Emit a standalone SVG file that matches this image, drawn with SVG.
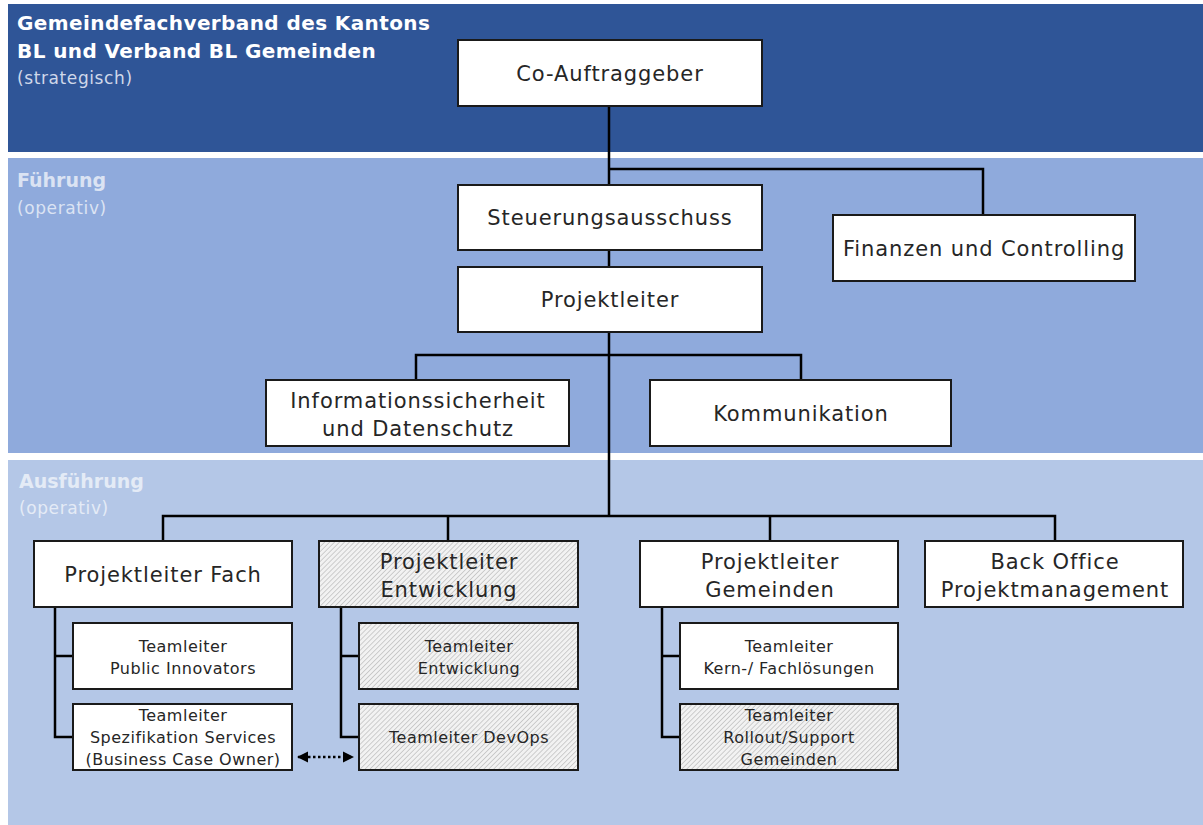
<svg xmlns="http://www.w3.org/2000/svg" width="1203" height="825" viewBox="0 0 1203 825">
  <style>
    .box { fill: #ffffff; stroke: #1a1a1a; stroke-width: 2; }
    .hatch { fill: url(#hatch); stroke: #1a1a1a; stroke-width: 2; }
    .t { font-family: "DejaVu Sans", "Liberation Sans", sans-serif; fill: #262626; text-anchor: middle; }
    .big { font-size: 21px; letter-spacing: 0.9px; }
    .small { font-size: 16px; letter-spacing: 0.5px; }
    .conn { fill: none; stroke: #000; stroke-width: 2.5; }
    .head { font-family: "DejaVu Sans", "Liberation Sans", sans-serif; font-weight: bold; font-size: 20px; letter-spacing: 0.4px; }
    .sec { font-family: "DejaVu Sans", "Liberation Sans", sans-serif; font-weight: bold; font-size: 19px; }
    .sub { font-family: "DejaVu Sans", "Liberation Sans", sans-serif; font-size: 17px; letter-spacing: 0.6px; }
  </style>
  <defs>
    <pattern id="hatch" width="3.5" height="3.5" patternUnits="userSpaceOnUse" patternTransform="rotate(45)">
      <rect width="3.5" height="3.5" fill="#f2f2f2"/>
      <line x1="0" y1="0" x2="0" y2="3.5" stroke="#adadad" stroke-width="1.1"/>
    </pattern>
    <marker id="arr" viewBox="0 0 10 10" refX="9" refY="5" markerWidth="4.5" markerHeight="4.5" orient="auto-start-reverse">
      <path d="M0,0 L10,5 L0,10 z" fill="#000"/>
    </marker>
  </defs>

  <rect width="1203" height="825" fill="#ffffff"/>

  <!-- bands -->
  <g id="bands">
    <rect x="8" y="4" width="1195" height="148" fill="#2f5597"/>
    <rect x="8" y="158" width="1195" height="295" fill="#8faadc"/>
    <rect x="8" y="460" width="1195" height="365" fill="#b4c7e7"/>
    <text class="head" x="17" y="30" fill="#ffffff">Gemeindefachverband des Kantons</text>
    <text class="head" x="17" y="58" fill="#ffffff">BL und Verband BL Gemeinden</text>
    <text class="sub" x="17" y="84" fill="#d0d8ea">(strategisch)</text>
    <text class="sec" x="17" y="187" fill="#dbe3f3">Führung</text>
    <text class="sub" x="17" y="214" fill="#dbe3f3">(operativ)</text>
    <text class="sec" x="19" y="488" fill="#e4ebf6">Ausführung</text>
    <text class="sub" x="19" y="514" fill="#e4ebf6">(operativ)</text>
  </g>

  <!-- connectors -->
  <g id="connectors">
    <path class="conn" d="M609,106 V267 M609,169 H983 V215 M609,332 V516 M416,380 V355 H801 V380 M163,541 V516 H1055 V541 M448,516 V541 M770,516 V541"/>
    <path class="conn" d="M55,607 V737 H73 M55,656 H73"/>
    <path class="conn" d="M341,607 V737 H359 M341,656 H359"/>
    <path class="conn" d="M662,607 V737 H680 M662,656 H680"/>
    <line x1="298" y1="757" x2="353" y2="757" stroke="#000" stroke-width="2.5" stroke-dasharray="2.5 2.5" marker-start="url(#arr)" marker-end="url(#arr)"/>
  </g>

  <g id="co-auftraggeber">
    <rect class="box" x="458" y="40" width="304" height="66"/>
    <text class="t big" x="610" y="81">Co-Auftraggeber</text>
  </g>
  <g id="steuerungsausschuss">
    <rect class="box" x="458" y="185" width="304" height="65"/>
    <text class="t big" x="610" y="225">Steuerungsausschuss</text>
  </g>
  <g id="finanzen">
    <rect class="box" x="833" y="215" width="302" height="66"/>
    <text class="t big" x="984" y="256">Finanzen und Controlling</text>
  </g>
  <g id="projektleiter">
    <rect class="box" x="458" y="267" width="304" height="65"/>
    <text class="t big" x="610" y="307">Projektleiter</text>
  </g>
  <g id="informationssicherheit">
    <rect class="box" x="266" y="380" width="303" height="66"/>
    <text class="t big" x="418" y="408">Informationssicherheit</text>
    <text class="t big" x="418" y="436">und Datenschutz</text>
  </g>
  <g id="kommunikation">
    <rect class="box" x="650" y="380" width="301" height="66"/>
    <text class="t big" x="801" y="421">Kommunikation</text>
  </g>

  <g id="pl-fach">
    <rect class="box" x="34" y="541" width="258" height="66"/>
    <text class="t big" x="163" y="582">Projektleiter Fach</text>
  </g>
  <g id="pl-entwicklung">
    <rect class="hatch" x="319" y="541" width="259" height="66"/>
    <text class="t big" x="449" y="569">Projektleiter</text>
    <text class="t big" x="449" y="597">Entwicklung</text>
  </g>
  <g id="pl-gemeinden">
    <rect class="box" x="640" y="541" width="258" height="66"/>
    <text class="t big" x="770" y="569">Projektleiter</text>
    <text class="t big" x="770" y="597">Gemeinden</text>
  </g>
  <g id="back-office">
    <rect class="box" x="925" y="541" width="258" height="66"/>
    <text class="t big" x="1055" y="569">Back Office</text>
    <text class="t big" x="1055" y="597">Projektmanagement</text>
  </g>

  <g id="tl-public-innovators">
    <rect class="box" x="73" y="623" width="219" height="66"/>
    <text class="t small" x="183" y="652">Teamleiter</text>
    <text class="t small" x="183" y="674">Public Innovators</text>
  </g>
  <g id="tl-spezifikation">
    <rect class="box" x="73" y="704" width="219" height="66"/>
    <text class="t small" x="183" y="721">Teamleiter</text>
    <text class="t small" x="183" y="743">Spezifikation Services</text>
    <text class="t small" x="183" y="765">(Business Case Owner)</text>
  </g>
  <g id="tl-entwicklung">
    <rect class="hatch" x="359" y="623" width="219" height="66"/>
    <text class="t small" x="469" y="652">Teamleiter</text>
    <text class="t small" x="469" y="674">Entwicklung</text>
  </g>
  <g id="tl-devops">
    <rect class="hatch" x="359" y="704" width="219" height="66"/>
    <text class="t small" x="469" y="743">Teamleiter DevOps</text>
  </g>
  <g id="tl-kern">
    <rect class="box" x="680" y="623" width="218" height="66"/>
    <text class="t small" x="789" y="652">Teamleiter</text>
    <text class="t small" x="789" y="674">Kern-/ Fachlösungen</text>
  </g>
  <g id="tl-rollout">
    <rect class="hatch" x="680" y="704" width="218" height="66"/>
    <text class="t small" x="789" y="721">Teamleiter</text>
    <text class="t small" x="789" y="743">Rollout/Support</text>
    <text class="t small" x="789" y="765">Gemeinden</text>
  </g>
</svg>
